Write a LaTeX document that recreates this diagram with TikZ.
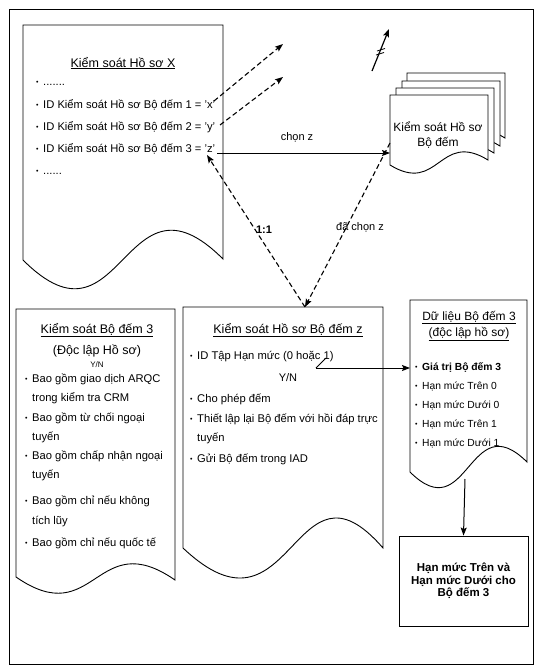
\documentclass[tikz,border=0pt]{standalone}
\usepackage{fontspec}
\setmainfont{Liberation Sans}
\usetikzlibrary{arrows.meta}
\newcommand{\bul}{\makebox[7pt][l]{\fontsize{7}{7}\selectfont\raisebox{0.2pt}{•}}}
\newcommand{\nobul}{\hspace*{7pt}}
\begin{document}
\begin{tikzpicture}[x=1pt,y=-1pt,
  doc/.style={draw, line width=0.9pt, fill=white},
  body/.style={font=\fontsize{11.2}{13}\selectfont, inner sep=0pt, anchor=base west},
  small/.style={font=\fontsize{10.3}{12}\selectfont, inner sep=0pt, anchor=base west},
  ttl/.style={font=\fontsize{12.5}{14}\selectfont, inner sep=0pt, anchor=base},
  lbl/.style={font=\fontsize{11}{13}\selectfont, inner sep=0pt, anchor=base},
  dsh/.style={line width=1.1pt, dash pattern=on 5pt off 3pt, -{Stealth[length=8pt,width=6pt,inset=1.5pt]}},
  sol/.style={line width=1pt, -{Stealth[length=8pt,width=6pt,inset=1.5pt]}}]
\useasboundingbox (0,0) rectangle (540,672);
\draw[line width=0.9pt] (9,9) rectangle (533,664);

% Document X
\draw[doc] (23,25) -- (223,25) -- (223,259) .. controls (123,159) and (123,360) .. (23,260) -- cycle;
\node[ttl] (xt) at (123,67) {\underline{Kiểm soát Hồ sơ X}};
\node[body] (x0) at (36,85) {\bul .......};
\node[body] (x1) at (36,108) {\bul ID Kiểm soát Hồ sơ Bộ đếm 1 = 'x'};
\node[body] (x2) at (36,130) {\bul ID Kiểm soát Hồ sơ Bộ đếm 2 = 'y'};
\node[body] (x3) at (36,152) {\bul ID Kiểm soát Hồ sơ Bộ đếm 3 = 'z'};
\node[body] (x4) at (36,174) {\bul ......};

% Stack of documents
\foreach \dx/\dy in {17/-22, 12/-14, 6/-7, 0/0}{
  \begin{scope}[shift={(\dx,\dy)}]
    \draw[doc] (390,95) -- (488,95) -- (488,160) .. controls (439,130) and (439,195) .. (390,165) -- cycle;
  \end{scope}
}
\node[font=\fontsize{12}{15}\selectfont, align=center, inner sep=0pt] (st) at (438,135) {Kiểm soát Hồ sơ\\Bộ đếm};

% Left bottom document
\draw[doc] (16,309) -- (175,309) -- (175,580) .. controls (95.5,525) and (95.5,632) .. (16,577) -- cycle;
\node[ttl] (lt) at (97,333) {\underline{Kiểm soát Bộ đếm 3}};
\node[ttl] (lt2) at (97,354) {(Độc lập Hồ sơ)};
\node[font=\fontsize{8}{9}\selectfont, inner sep=0pt, anchor=base] (lyn) at (97,367) {Y/N};
\node[body] (l1) at (25,382) {\bul Bao gồm giao dịch ARQC};
\node[body] (l1b) at (25,401) {\nobul trong kiểm tra CRM};
\node[body] (l2) at (25,421) {\bul Bao gồm từ chối ngoại};
\node[body] (l2b) at (25,440) {\nobul tuyến};
\node[body] (l3) at (25,459) {\bul Bao gồm chấp nhận ngoại};
\node[body] (l3b) at (25,478) {\nobul tuyến};
\node[body] (l4) at (25,504) {\bul Bao gồm chỉ nếu không};
\node[body] (l4b) at (25,524) {\nobul tích lũy};
\node[body] (l5) at (25,546) {\bul Bao gồm chỉ nếu quốc tế};

% Middle bottom document
\draw[doc] (183,307) -- (383,307) -- (383,548) .. controls (293,444) and (293,652) .. (183,548) -- cycle;
\node[ttl] (mt) at (288,333) {\underline{Kiểm soát Hồ sơ Bộ đếm z}};
\node[body] (m1) at (190,359) {\bul ID Tập Hạn mức (0 hoặc 1)};
\node[lbl] (myn) at (288,381) {Y/N};
\node[body] (m2) at (190,402) {\bul Cho phép đếm};
\node[body] (m3) at (190,422) {\bul Thiết lập lại Bộ đếm với hồi đáp trực};
\node[body] (m3b) at (190,441) {\nobul tuyến};
\node[body] (m4) at (190,462) {\bul Gửi Bộ đếm trong IAD};

% Right document
\draw[doc] (410,300) -- (527,300) -- (527,462) .. controls (468.5,404) and (468.5,530) .. (410,472) -- cycle;
\node[ttl, font=\fontsize{12}{14}\selectfont] (rt) at (469,320) {\underline{Dữ liệu Bộ đếm 3}};
\node[ttl, font=\fontsize{12}{14}\selectfont] (rt2) at (469,336) {\underline{(độc lập hồ sơ)}};
\node[small] (r1) at (415,370) {\bul\textbf{Giá trị Bộ đếm 3}};
\node[small] (r2) at (415,389) {\bul Hạn mức Trên 0};
\node[small] (r3) at (415,408) {\bul Hạn mức Dưới 0};
\node[small] (r4) at (415,427) {\bul Hạn mức Trên 1};
\node[small] (r5) at (415,446) {\bul Hạn mức Dưới 1};

% Result box
\node[draw, line width=0.9pt, minimum width=129, minimum height=90, align=center,
      font=\fontsize{11.5}{12.5}\selectfont\bfseries] (lim) at (463.5,581)
      {Hạn mức Trên và\\Hạn mức Dưới cho\\Bộ đếm 3};

% Coordinates for connectors
\coordinate (xs) at (214,101);
\coordinate (xe) at (283,44);
\coordinate (ys) at (220,125);
\coordinate (ye) at (283,77);
\coordinate (zs) at (217,153);
\coordinate (stl) at (390,153);
\coordinate (stl2) at (390,143);
\coordinate (zq) at (207,155);
\coordinate (mtop) at (305,307);
\coordinate (nt) at (372,71);
\coordinate (nh) at (389,29);
\coordinate (yn1) at (326,358);
\coordinate (yn2) at (316,368);
\coordinate (gt) at (410,368);
\coordinate (rdb) at (465,479);

% Connectors
\draw[dsh] (xs) -- (xe);
\draw[dsh] (ys) -- (ye);
\draw[sol] (zs) -- (stl);
\draw[dsh] (mtop) -- (zq);
\draw[dsh] (stl2) -- (mtop);
\draw[sol, line width=1.2pt] (nt) -- (nh);
\draw[line width=0.8pt] (377,51) -- (385,48.5);
\draw[line width=0.8pt] (376,55) -- (384,52.5);
\draw[line width=0.8pt] (yn1) -- (yn2);
\draw[sol] (yn2) -- (gt);
\draw[sol] (rdb) -- (lim.north);

% Labels
\node[lbl] (lz) at (297,140) {chọn z};
\node[lbl, font=\fontsize{11}{13}\selectfont\bfseries] (l11) at (264,233) {1:1};
\node[lbl] (ldz) at (360,230) {đã chọn z};
\end{tikzpicture}
\end{document}
